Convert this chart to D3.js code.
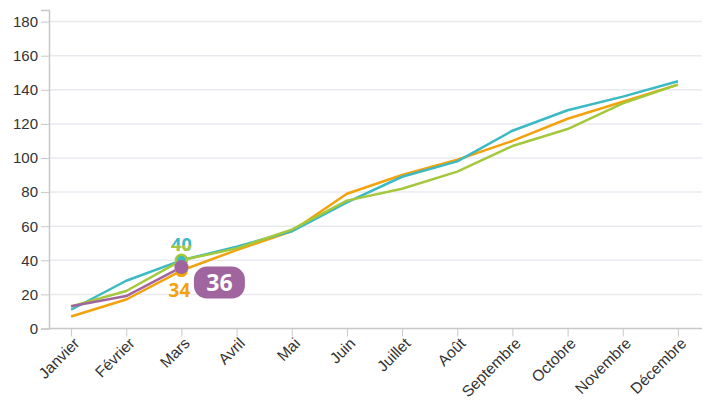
<!DOCTYPE html>
<html>
<head>
<meta charset="utf-8">
<script src="https://cdn.jsdelivr.net/npm/d3@7"></script>
<style>
  body { margin: 0; background: #fff; }
  svg { display: block; font-family: "Open Sans", sans-serif; }
</style>
</head>
<body>
<div id="chart"></div>
<script>
const months = ["Janvier", "Février", "Mars", "Avril", "Mai", "Juin", "Juillet", "Août",
  "Septembre", "Octobre", "Novembre", "Décembre"];
const yTicks = [0, 20, 40, 60, 80, 100, 120, 140, 160, 180];

const tealValues = [11, 28, 40, 48, 57, 74, 89, 98, 116, 128, 136, 145];
const greenValues = [13, 22, 40, 47, 58, 75, 82, 92, 107, 117, 132, 143];
const orangeValues = [7, 17, 34, 46, 57, 79, 90, 99, 110, 123, 133, 143];
const purpleValues = [13, 19, 36];

const highlightMonth = "Mars";

const width = 708;
const height = 401;
const x0 = 49, x1 = 700;
const yBottom = 328.5, yTop = 10;

const svg = d3.select("#chart").append("svg")
  .attr("width", width).attr("height", height);

const x = d3.scalePoint().domain(months).range([x0, x1]).padding(0.4);
const y = d3.scaleLinear().domain([0, 186.8]).range([yBottom, yTop]);

// gridlines
svg.append("g")
  .selectAll("line")
  .data(yTicks.slice(1))
  .join("line")
  .attr("x1", x0).attr("x2", 702)
  .attr("y1", d => y(d)).attr("y2", d => y(d))
  .attr("stroke", "#e9e9f0").attr("stroke-width", 1.5);

// y axis
const yAxis = svg.append("g")
  .attr("transform", `translate(${x0},0)`)
  .call(d3.axisLeft(y).tickValues(yTicks).tickSize(8).tickPadding(3));
yAxis.select(".domain").attr("stroke", "#c8c8c8").attr("stroke-width", 1.5);
yAxis.selectAll(".tick line").attr("stroke", "#c8c8c8");
yAxis.selectAll("text").attr("font-size", 15).attr("fill", "#333");

// x axis
const xAxis = svg.append("g")
  .attr("transform", `translate(0,${yBottom})`)
  .call(d3.axisBottom(x).tickSize(8).tickSizeOuter(0));
xAxis.select(".domain").attr("d", `M${x0},0H702`).attr("stroke", "#c8c8c8").attr("stroke-width", 1.5);
xAxis.selectAll(".tick line").attr("stroke", "#c8c8c8");
xAxis.selectAll("text")
  .attr("font-size", 15.5).attr("fill", "#333")
  .attr("text-anchor", "end")
  .attr("dy", "0.35em")
  .attr("transform", "translate(5,12) rotate(-45)")
  .attr("x", 0).attr("y", 0);

const line = d3.line()
  .x((d, i) => x(months[i]))
  .y(d => y(d));

const series = [
  { name: "orange", values: orangeValues, color: "#f2a20c" },
  { name: "teal", values: tealValues, color: "#3bb9c4" },
  { name: "green", values: greenValues, color: "#a4c83b" },
  { name: "purple", values: purpleValues, color: "#a0659f" }
];

svg.append("g")
  .selectAll("path")
  .data(series)
  .join("path")
  .attr("d", d => line(d.values))
  .attr("fill", "none")
  .attr("stroke", d => d.color)
  .attr("stroke-width", 2.5)
  .attr("stroke-linejoin", "round");

// highlight markers at Mars
const hi = months.indexOf(highlightMonth);
const hx = x(highlightMonth);
svg.append("circle").attr("cx", hx).attr("cy", y(orangeValues[hi]))
  .attr("r", 5.5).attr("fill", "#f2a20c").attr("stroke", "#f2a20c").attr("stroke-width", 2);
svg.append("circle").attr("cx", hx).attr("cy", y(greenValues[hi]))
  .attr("r", 5.5).attr("fill", "#3bb9c4").attr("stroke", "#a4c83b").attr("stroke-width", 2.5);
svg.append("circle").attr("cx", hx).attr("cy", y(purpleValues[hi]))
  .attr("r", 7).attr("fill", "#a0659f");

// label 40 (teal top, green bottom)
const labTop = y(tealValues[hi]) - 9;
const defs = svg.append("defs");
defs.append("clipPath").attr("id", "lowerHalf")
  .append("rect").attr("x", hx - 20).attr("y", labTop - 6).attr("width", 40).attr("height", 20);
svg.append("text").attr("x", hx).attr("y", labTop)
  .attr("text-anchor", "middle").attr("font-size", 18).attr("font-weight", "bold")
  .attr("fill", "#3bb9c4").text(tealValues[hi]);
svg.append("text").attr("x", hx).attr("y", labTop)
  .attr("text-anchor", "middle").attr("font-size", 18).attr("font-weight", "bold")
  .attr("fill", "#a4c83b").attr("clip-path", "url(#lowerHalf)").text(greenValues[hi]);

// label 34
svg.append("text").attr("x", hx - 2).attr("y", y(orangeValues[hi]) + 26)
  .attr("text-anchor", "middle").attr("font-size", 19).attr("font-weight", "bold")
  .attr("fill", "#f2a20c").text(orangeValues[hi]);

// label 36 pill
const pillX = hx + 12.5, pillY = y(purpleValues[hi]) - 0.5;
svg.append("rect").attr("x", pillX).attr("y", pillY)
  .attr("width", 51).attr("height", 32).attr("rx", 13)
  .attr("fill", "#a0659f");
svg.append("text").attr("x", pillX + 25.5).attr("y", pillY + 24)
  .attr("text-anchor", "middle").attr("font-size", 23).attr("font-weight", "bold")
  .attr("fill", "#fff").text(purpleValues[hi]);
</script>
</body>
</html>
